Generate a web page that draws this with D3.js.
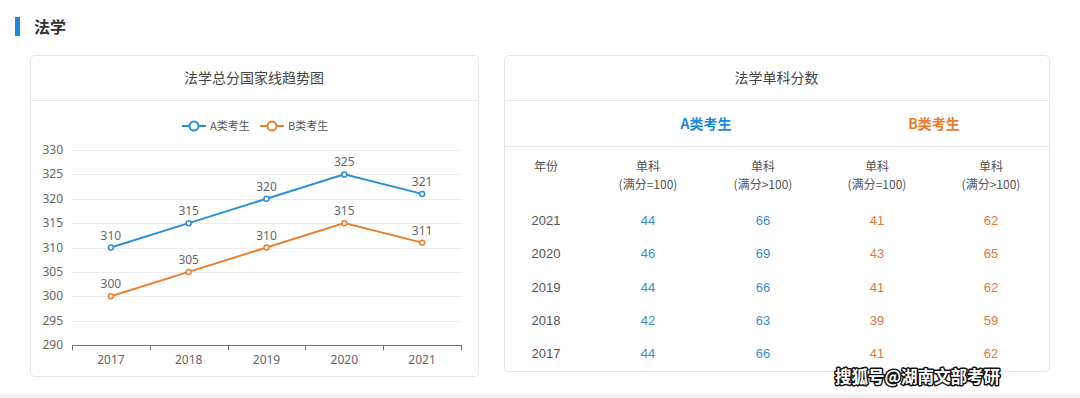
<!DOCTYPE html>
<html>
<head>
<meta charset="utf-8">
<script src="https://cdn.jsdelivr.net/npm/d3@7"></script>
<style>
  body { margin: 0; background: #fff; }
  svg { display: block; font-family: "Noto Sans CJK SC", "Noto Sans", sans-serif; }
  .num { font-family: "Liberation Sans", Arial, sans-serif; }
</style>
</head>
<body>
<div id="chart"></div>
<script>
// data
const years = ['2017', '2018', '2019', '2020', '2021'];
const scoresA = [310, 315, 320, 325, 321];
const scoresB = [300, 305, 310, 315, 311];
const yTicks = [290, 295, 300, 305, 310, 315, 320, 325, 330];

const tableYears = ['2021', '2020', '2019', '2018', '2017'];
const aFull100 = [44, 46, 44, 42, 44];
const aOver100 = [66, 69, 66, 63, 66];
const bFull100 = [41, 43, 41, 39, 41];
const bOver100 = [62, 65, 62, 59, 62];

const blue = '#2b8fd6', orange = '#e8812f';
const tBlue = '#3a8bcc', tOrange = '#e3783c';

const svg = d3.select('#chart').append('svg')
  .attr('width', 1080).attr('height', 398);

// page strip at bottom
svg.append('rect').attr('x', 0).attr('y', 394).attr('width', 1080).attr('height', 4).attr('fill', '#f1f1f1');

// section heading
svg.append('rect').attr('x', 15).attr('y', 17).attr('width', 5).attr('height', 19).attr('fill', '#1a8ae0');
svg.append('text').attr('x', 34).attr('y', 33).attr('font-size', 16).attr('font-weight', 'bold')
  .attr('fill', '#333').text('法学');

// cards
function card(x, y, w, h, title) {
  svg.append('rect').attr('x', x + 0.5).attr('y', y + 0.5).attr('width', w).attr('height', h)
    .attr('rx', 4).attr('fill', '#fff').attr('stroke', '#e4e4e4');
  svg.append('line').attr('x1', x).attr('x2', x + w).attr('y1', y + 45.5).attr('y2', y + 45.5)
    .attr('stroke', '#e6e6e6');
  svg.append('text').attr('x', x + w / 2).attr('y', y + 28).attr('text-anchor', 'middle')
    .attr('font-size', 14).attr('fill', '#444').text(title);
}
card(30, 55, 448, 321, '法学总分国家线趋势图');
card(504, 55, 545, 316, '法学单科分数');

// ---- line chart ----
const x = d3.scaleBand().domain(years).range([72, 461]);
const y = d3.scaleLinear().domain([290, 330]).range([345, 150]);
const cx = d => x(d) + x.bandwidth() / 2;

const g = svg.append('g');
g.selectAll('line.grid').data(yTicks.slice(1)).join('line')
  .attr('class', 'grid')
  .attr('x1', 72).attr('x2', 462)
  .attr('y1', d => Math.round(y(d)) + 0.5).attr('y2', d => Math.round(y(d)) + 0.5)
  .attr('stroke', '#ececec');

g.selectAll('text.ylab').data(yTicks).join('text')
  .attr('class', 'ylab')
  .attr('x', 63).attr('y', d => y(d) + 4)
  .attr('text-anchor', 'end').attr('font-size', 12).attr('fill', '#666')
  .attr('font-family', 'Noto Sans, sans-serif')
  .text(d => d);

// x axis
const xAxis = g.append('g').attr('transform', 'translate(0,345.5)');
xAxis.append('line').attr('x1', 72).attr('x2', 462).attr('stroke', '#6e7079');
const bounds = years.map(d => x(d)).concat([x(years[years.length - 1]) + x.bandwidth()]);
xAxis.selectAll('line.tick').data(bounds).join('line')
  .attr('class', 'tick')
  .attr('x1', d => Math.round(d) + 0.5).attr('x2', d => Math.round(d) + 0.5)
  .attr('y1', 0).attr('y2', 5).attr('stroke', '#6e7079');
xAxis.selectAll('text').data(years).join('text')
  .attr('x', d => cx(d)).attr('y', 18)
  .attr('text-anchor', 'middle').attr('font-size', 12).attr('fill', '#666')
  .attr('font-family', 'Noto Sans, sans-serif')
  .text(d => d);

const series = [
  { name: 'A类考生', values: scoresA, color: blue },
  { name: 'B类考生', values: scoresB, color: orange }
];

const line = d3.line().x((d, i) => cx(years[i])).y(d => y(d));

series.forEach(s => {
  g.append('path').attr('d', line(s.values)).attr('fill', 'none')
    .attr('stroke', s.color).attr('stroke-width', 2);
  g.selectAll(null).data(s.values).join('circle')
    .attr('cx', (d, i) => cx(years[i])).attr('cy', d => y(d)).attr('r', 2.5)
    .attr('fill', '#fff').attr('stroke', s.color).attr('stroke-width', 1.5);
  g.selectAll(null).data(s.values).join('text')
    .attr('x', (d, i) => cx(years[i])).attr('y', d => y(d) - 8)
    .attr('text-anchor', 'middle').attr('font-size', 12).attr('fill', '#666')
    .attr('font-family', 'Noto Sans, sans-serif')
    .text(d => d);
});

// legend
const legendX = [182, 260];
series.forEach((s, i) => {
  const lg = svg.append('g').attr('transform', `translate(${legendX[i]},126)`);
  lg.append('line').attr('x1', 0).attr('x2', 24).attr('stroke', s.color).attr('stroke-width', 2);
  lg.append('circle').attr('cx', 12).attr('r', 4.5).attr('fill', '#fff')
    .attr('stroke', s.color).attr('stroke-width', 2);
  lg.append('text').attr('x', 28).attr('y', 4).attr('font-size', 11).attr('fill', '#555').text(s.name);
});

// ---- table ----
const colX = [546, 648, 763, 877, 991];
svg.append('text').attr('x', 706).attr('y', 129).attr('text-anchor', 'middle')
  .attr('font-size', 14).attr('font-weight', 'bold').attr('fill', '#1e88d8').text('A类考生');
svg.append('text').attr('x', 934).attr('y', 129).attr('text-anchor', 'middle')
  .attr('font-size', 14).attr('font-weight', 'bold').attr('fill', '#ec7a2c').text('B类考生');
svg.append('line').attr('x1', 504).attr('x2', 1049).attr('y1', 146.5).attr('y2', 146.5).attr('stroke', '#e6e6e6');

const headTop = ['年份', '单科', '单科', '单科', '单科'];
const headBot = ['', '(满分=100)', '(满分>100)', '(满分=100)', '(满分>100)'];
svg.selectAll('text.h1').data(headTop).join('text')
  .attr('class', 'h1').attr('x', (d, i) => colX[i]).attr('y', 171)
  .attr('text-anchor', 'middle').attr('font-size', 12).attr('fill', '#555').text(d => d);
svg.selectAll('text.h2').data(headBot).join('text')
  .attr('class', 'h2').attr('x', (d, i) => colX[i]).attr('y', 189)
  .attr('text-anchor', 'middle').attr('font-size', 12).attr('fill', '#555').text(d => d);

const rowY = d3.scalePoint().domain(tableYears).range([225, 358]);
const cols = [
  { vals: tableYears, color: '#555' },
  { vals: aFull100, color: tBlue },
  { vals: aOver100, color: tBlue },
  { vals: bFull100, color: tOrange },
  { vals: bOver100, color: tOrange }
];
cols.forEach((c, ci) => {
  svg.selectAll(null).data(c.vals).join('text')
    .attr('class', 'num')
    .attr('x', colX[ci]).attr('y', (d, i) => rowY(tableYears[i]))
    .attr('text-anchor', 'middle').attr('font-size', 13)
    .attr('fill', c.color).text(d => d);
});

// watermark
svg.append('text').attr('x', 1000).attr('y', 383).attr('text-anchor', 'end')
  .attr('font-size', 16.5).attr('font-weight', 'bold')
  .attr('fill', '#fff').attr('stroke', '#111').attr('stroke-width', 3)
  .attr('paint-order', 'stroke').attr('stroke-linejoin', 'round')
  .text('搜狐号@湖南文部考研');
</script>
</body>
</html>
